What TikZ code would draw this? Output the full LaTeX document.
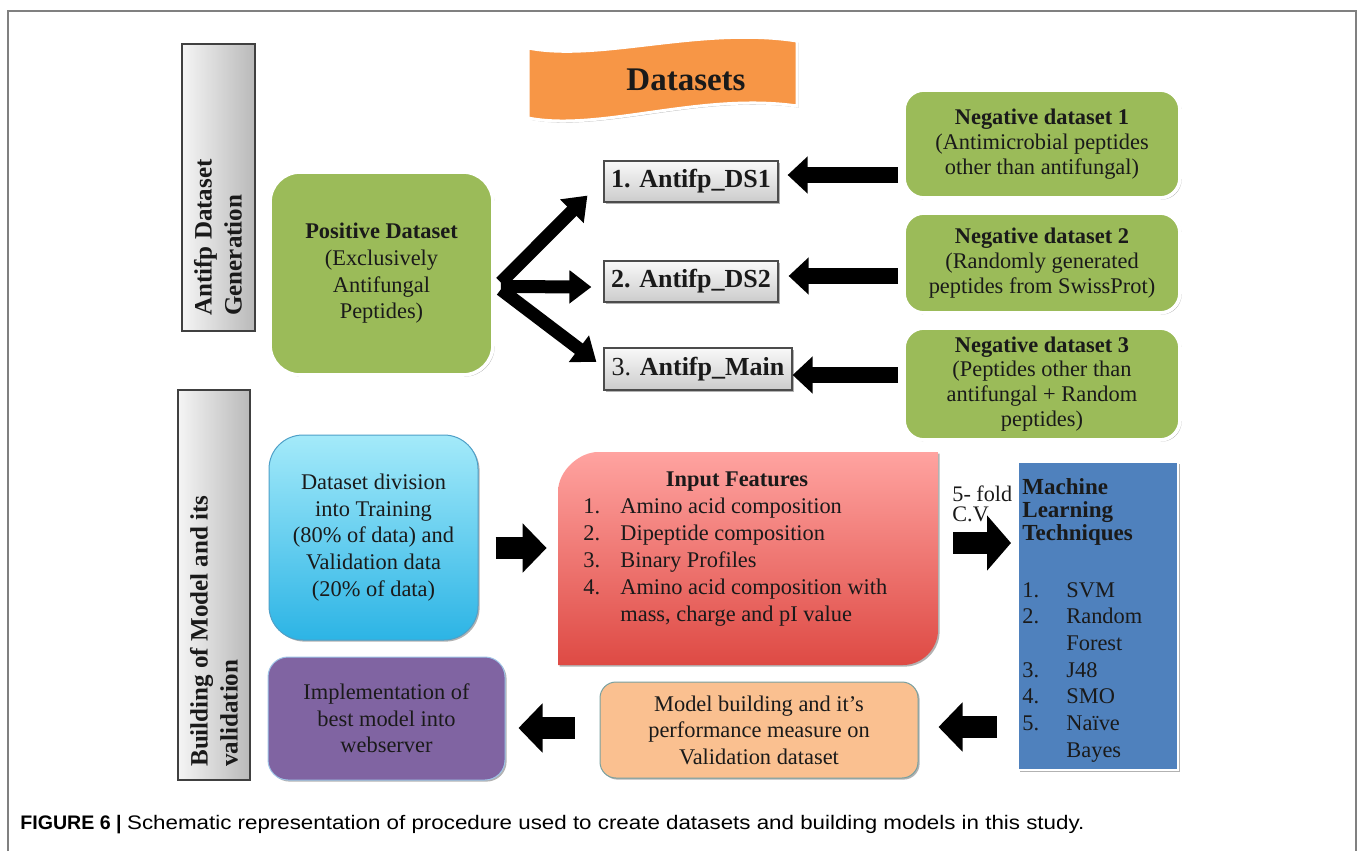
\documentclass[tikz,border=0pt]{standalone}
\usepackage{fontspec}
\setmainfont{Liberation Serif}
\newfontfamily\capfont{Liberation Sans}
\newfontfamily\capfontw[FakeStretch=1.14]{Liberation Sans}
\usetikzlibrary{arrows.meta,calc,shadows}
\definecolor{txt}{HTML}{1A1A1A}
\definecolor{grn}{HTML}{9BBB59}
\definecolor{orn}{HTML}{F79646}
\definecolor{cyT}{HTML}{A4EAFA}
\definecolor{cyB}{HTML}{2CB4E5}
\definecolor{cyD}{HTML}{4FA0C8}
\definecolor{rdT}{HTML}{FFA3A0}
\definecolor{rdB}{HTML}{DE4A44}
\definecolor{blu}{HTML}{4F81BD}
\definecolor{mdl}{HTML}{FAC090}
\definecolor{mdlD}{HTML}{78A0A0}
\definecolor{pur}{HTML}{8064A2}
\definecolor{purD}{HTML}{9DC3E6}
\definecolor{frm}{HTML}{808080}
\newcommand\bodyfnt{\fontsize{11.2}{13.3}\selectfont}
\begin{document}
\begin{tikzpicture}[x=0.5pt,y=-0.5pt,
  every node/.style={text=txt},
  shad/.style={drop shadow={shadow xshift=0.8pt,shadow yshift=-0.8pt,opacity=0.3,fill=black}},
  gbox/.style={rounded corners=10pt, fill=grn, draw=white, line width=1.8pt, shad, align=center, inner sep=0pt},
  labbox/.style={draw=black!75, line width=0.8pt, left color=gray!8, right color=gray!55, inner sep=0pt},
  labtext/.style={rotate=90, anchor=west, align=left, inner sep=0pt, font=\fontsize{12.5}{15}\selectfont\bfseries},
  dsbox/.style={draw=black!70, line width=0.6pt, top color=gray!5, bottom color=gray!40, shad, inner sep=0pt, font=\fontsize{13}{15}\selectfont},
  forkarr/.style={line width=6.5pt, -{Triangle[length=11pt,width=16pt]}, black},
  negarr/.style={line width=8pt, -{Triangle[length=10pt,width=18pt]}, black},
  bigarr/.style={line width=11pt, -{Triangle[length=12pt,width=24pt]}, black},
]
\useasboundingbox (0,0) rectangle (1358,851);
\fill[white] (0,0) rectangle (1358,851);
\draw[frm, line width=1pt] (8,851) -- (8,11) -- (1356,11) -- (1356,851);

% side labels
\node[labbox, minimum width=36.5pt, minimum height=143.5pt] (lab1) at (218.5,187.5) {};
\node[labtext] (lab1t) at (218,316) {Antifp Dataset\\Generation};
\node[labbox, minimum width=36pt, minimum height=195pt] (lab2) at (214,585) {};
\node[labtext] (lab2t) at (214,767) {Building of Model and its\\validation};

% Datasets banner
\path[fill=orn, draw=white, line width=1.5pt, shad]
  (528,48) .. controls (600,62) and (700,26) .. (797,41)
  -- (797,106) .. controls (700,92) and (600,132) .. (528,118) -- cycle;
\node[font=\fontsize{16.5}{18}\selectfont\bfseries] (dtitle) at (686,80) {Datasets};

% positive
\node[gbox, rounded corners=15pt, minimum width=111.5pt, minimum height=101.5pt, font=\bodyfnt] (pos) at (381.5,273.5)
  {{\bfseries Positive Dataset}\\(Exclusively\\Antifungal\\Peptides)};

% dataset boxes
\node[dsbox, minimum width=87pt, minimum height=20.5pt] (ds1) at (691,181.5) {\bfseries 1. Antifp\_DS1};
\node[dsbox, minimum width=87pt, minimum height=20.5pt] (ds2) at (691,281.5) {\bfseries 2. Antifp\_DS2};
\node[dsbox, minimum width=94pt, minimum height=21pt] (ds3) at (698,369) {3. \textbf{Antifp\_Main}};

% negatives
\node[gbox, minimum width=138pt, minimum height=54pt, font=\fontsize{11.2}{12.4}\selectfont] (neg1) at (1042,144)
  {{\bfseries Negative dataset 1}\\(Antimicrobial peptides\\other than antifungal)};
\node[gbox, minimum width=138pt, minimum height=50pt, font=\fontsize{11.2}{12.4}\selectfont] (neg2) at (1042,263)
  {{\bfseries Negative dataset 2}\\(Randomly generated\\peptides from SwissProt)};
\node[gbox, minimum width=138pt, minimum height=56pt, font=\fontsize{11.2}{12.4}\selectfont] (neg3) at (1042,384)
  {{\bfseries Negative dataset 3}\\(Peptides other than\\antifungal + Random\\peptides)};

% fork arrows
\coordinate (fk) at ($(pos.east)+(6,9)$);
\draw[forkarr] (fk) -- ($(ds1.south west)+(-16,-7)$);
\draw[forkarr] ($(fk)+(0,4)$) -- ($(ds2.west)+(-12,5.5)$);
\draw[forkarr] ($(fk)+(0,7)$) -- ($(ds3.west)+(-7,-7)$);

% negative arrows
\coordinate (t1) at ($(ds1.east)+(9,-6.5)$);
\coordinate (t2) at ($(ds2.east)+(10,-5.5)$);
\coordinate (t3) at ($(ds3.east)+(0,6)$);
\draw[negarr] ([xshift=-2pt]neg1.west |- t1) -- (t1);
\draw[negarr] ([xshift=-2pt]neg2.west |- t2) -- (t2);
\draw[negarr] ([xshift=-2pt]neg3.west |- t3) -- (t3);

% cyan box
\node[rounded corners=17pt, top color=cyT, bottom color=cyB, draw=cyD, line width=0.5pt, shad,
  minimum width=104.5pt, minimum height=102.5pt, align=center, inner sep=0pt, font=\bodyfnt] (cyan) at (373.5,537.5)
  {Dataset division\\into Training\\(80\% of data) and\\Validation data\\(20\% of data)};

% red box
\node[minimum width=190pt, minimum height=106.5pt, inner sep=0pt] (red) at (748,558.5) {};
\shade[top color=rdT, bottom color=rdB, shad]
  (558,665) -- (558,492) .. controls (558,470) and (580,452) .. (598,452) -- (938,452)
  -- (938,630) .. controls (938,649) and (922,665) .. (903,665) -- cycle;
\node[font=\bodyfnt\bfseries] (inft) at (737,482) {Input Features};
\node[anchor=base west, inner sep=0pt, font=\fontsize{11.2}{13.5}\selectfont] (infl) at (583,513)
  {\begin{tabular}[t]{@{}p{18.5pt}@{}l@{}}
   1. & Amino acid composition\\
   2. & Dipeptide composition\\
   3. & Binary Profiles\\
   4. & Amino acid composition with\\
      & mass, charge and pI value
   \end{tabular}};

% blue box
\node[fill=blu, draw=white, line width=1pt, shad, minimum width=80pt, minimum height=154pt, inner sep=0pt] (blue) at (1098,616) {};
\node[anchor=base west, align=left, inner sep=0pt, font=\fontsize{11.5}{11.3}\selectfont\bfseries] (mlt) at (1022,540)
  {Machine\\Learning\\Techniques};
\node[anchor=base west, inner sep=0pt, font=\fontsize{11.2}{13.35}\selectfont] (mll) at (1022,597)
  {\begin{tabular}[t]{@{}p{22pt}@{}l@{}}
   1. & SVM\\
   2. & Random\\
      & Forest\\
   3. & J48\\
   4. & SMO\\
   5. & Naïve\\
      & Bayes
   \end{tabular}};

% 5-fold label
\node[anchor=base west, align=left, inner sep=0pt, font=\fontsize{11.1}{10}\selectfont] (cv) at (952,521) {5- fold\\C.V.};

% model building box
\node[rounded corners=8pt, fill=mdl, draw=mdlD, line width=0.5pt, shad, minimum width=159pt, minimum height=48pt,
  align=center, inner sep=0pt, font=\bodyfnt] (mdlb) at (759,730)
  {Model building and it's\\performance measure on\\Validation dataset};

% purple box
\node[rounded corners=10pt, fill=pur, draw=purD, line width=0.5pt, shad, minimum width=118.5pt, minimum height=61.5pt,
  align=center, inner sep=0pt, font=\bodyfnt] (purb) at (386.5,718.5)
  {Implementation of\\best model into\\webserver};

% big arrows
\coordinate (c1) at ($(cyan.east)+(17,10.5)$);
\draw[bigarr] (c1) -- ($(c1 -| red.west)+(-11,0)$);
\coordinate (c2) at (953,543);
\draw[bigarr, -{Triangle[length=12pt,width=27pt]}] ($(c2 -| red.east)+(15,0)$) -- ($(c2 -| blue.west)+(-6,0)$);
\draw[bigarr] ($(blue.west)+(-20,111)$) -- ($(mdlb.east)+(20,-3)$);
\draw[bigarr] ($(mdlb.west)+(-25,-2)$) -- ($(purb.east)+(13,9.5)$);

% caption
\node[anchor=base west, inner sep=0pt, font=\fontsize{9.8}{12}\selectfont, text=black] (cap) at (20,829)
  {\capfont\textbf{FIGURE 6 |} \capfontw Schematic representation of procedure used to create datasets and building models in this study.};
\end{tikzpicture}
\end{document}
